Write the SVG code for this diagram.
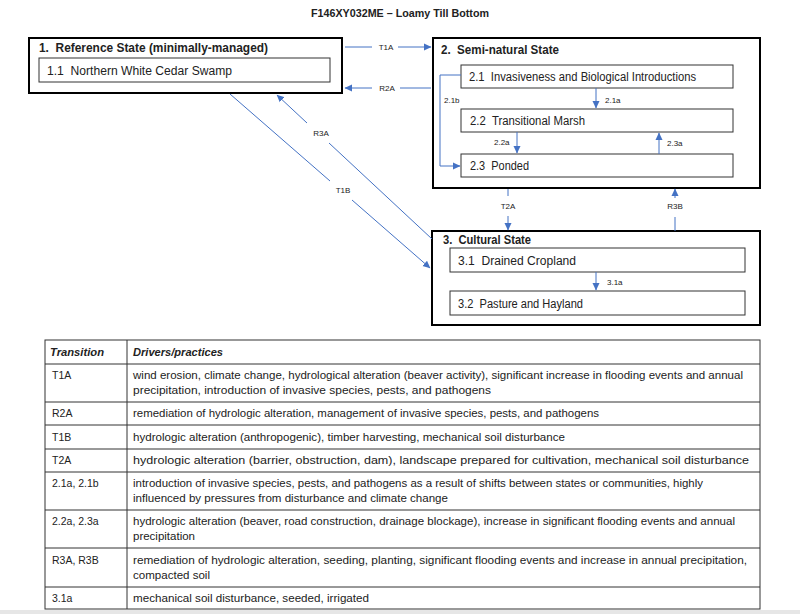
<svg xmlns="http://www.w3.org/2000/svg" width="800" height="614" viewBox="0 0 800 614">
<style>
text{font-family:"Liberation Sans",Arial,sans-serif;fill:#222}
.t{font-size:11px;font-weight:bold}
.h{font-size:12px;font-weight:bold}
.n{font-size:12px}
.l{font-size:8px}
.c{font-size:11px}
.k{font-size:10.5px}
.th{font-size:11px;font-weight:bold;font-style:italic}
.state{fill:#fff;stroke:#000;stroke-width:2}
.com{fill:#fff;stroke:#333;stroke-width:1}
.arr{fill:none;stroke:#4472C4;stroke-width:1}
.grid{stroke:#333;stroke-width:1;fill:none}
</style>
<defs>
<marker id="ah" markerWidth="8" markerHeight="8" refX="7" refY="4" orient="auto" markerUnits="userSpaceOnUse">
<path d="M0,0.5 L7.5,4 L0,7.5 Z" fill="#4472C4"/>
</marker>
</defs>
<rect width="800" height="614" fill="#fff"/>
<text class="t" x="400" y="17" text-anchor="middle" textLength="178" lengthAdjust="spacingAndGlyphs">F146XY032ME – Loamy Till Bottom</text>

<g id="state1">
<rect class="state" x="29" y="38" width="313" height="55"/>
<text class="h" x="39" y="52" textLength="229" lengthAdjust="spacingAndGlyphs">1.&#160; Reference State (minimally-managed)</text>
</g>
<g id="c11">
<rect class="com" x="39" y="58" width="291" height="24"/>
<text class="n" x="47" y="75" textLength="185" lengthAdjust="spacingAndGlyphs">1.1&#160; Northern White Cedar Swamp</text>
</g>
<g id="state2">
<rect class="state" x="433" y="38" width="327" height="150"/>
<text class="h" x="441" y="54" textLength="118" lengthAdjust="spacingAndGlyphs">2.&#160; Semi-natural State</text>
</g>
<g id="c21">
<rect class="com" x="461" y="65" width="272" height="23"/>
<text class="n" x="469" y="81" textLength="227" lengthAdjust="spacingAndGlyphs">2.1&#160; Invasiveness and Biological Introductions</text>
</g>
<g id="c22">
<rect class="com" x="461" y="109" width="272" height="23"/>
<text class="n" x="470" y="125" textLength="115" lengthAdjust="spacingAndGlyphs">2.2&#160; Transitional Marsh</text>
</g>
<g id="c23">
<rect class="com" x="461" y="154" width="272" height="23"/>
<text class="n" x="470" y="170" textLength="59" lengthAdjust="spacingAndGlyphs">2.3&#160; Ponded</text>
</g>
<g id="state3">
<rect class="state" x="432" y="231" width="328" height="94"/>
<text class="h" x="443" y="244" textLength="88" lengthAdjust="spacingAndGlyphs">3.&#160; Cultural State</text>
</g>
<g id="c31">
<rect class="com" x="450" y="248" width="295" height="24"/>
<text class="n" x="458" y="265" textLength="118" lengthAdjust="spacingAndGlyphs">3.1&#160; Drained Cropland</text>
</g>
<g id="c32">
<rect class="com" x="450" y="291" width="295" height="24"/>
<text class="n" x="458" y="308" textLength="125" lengthAdjust="spacingAndGlyphs">3.2&#160; Pasture and Hayland</text>
</g>

<g id="connectors">
<line class="arr" x1="345" y1="47" x2="372" y2="47"/>
<line class="arr" x1="398" y1="47" x2="431" y2="47" marker-end="url(#ah)"/>
<text class="l" x="386" y="50" text-anchor="middle">T1A</text>
<line class="arr" x1="372" y1="88" x2="345" y2="88" marker-end="url(#ah)"/>
<line class="arr" x1="431" y1="88" x2="400" y2="88"/>
<text class="l" x="387" y="91" text-anchor="middle">R2A</text>

<polyline class="arr" points="461,75 440,75 440,166 460,166" marker-end="url(#ah)"/>
<text class="l" x="444" y="103">2.1b</text>
<line class="arr" x1="596" y1="88" x2="596" y2="108" marker-end="url(#ah)"/>
<text class="l" x="605" y="103">2.1a</text>
<line class="arr" x1="517" y1="132" x2="517" y2="153" marker-end="url(#ah)"/>
<text class="l" x="494" y="145">2.2a</text>
<line class="arr" x1="659" y1="154" x2="659" y2="133" marker-end="url(#ah)"/>
<text class="l" x="667" y="146">2.3a</text>

<line class="arr" x1="508" y1="189" x2="508" y2="196"/>
<line class="arr" x1="508" y1="216" x2="508" y2="230" marker-end="url(#ah)"/>
<text class="l" x="508" y="209" text-anchor="middle">T2A</text>
<line class="arr" x1="675" y1="231" x2="675" y2="217"/>
<line class="arr" x1="675" y1="198" x2="675" y2="189" marker-end="url(#ah)"/>
<text class="l" x="675" y="209" text-anchor="middle">R3B</text>

<line class="arr" x1="230" y1="94" x2="330" y2="181"/>
<line class="arr" x1="352" y1="200" x2="430" y2="268" marker-end="url(#ah)"/>
<text class="l" x="343" y="193" text-anchor="middle">T1B</text>
<line class="arr" x1="432" y1="239" x2="329" y2="143"/>
<line class="arr" x1="307" y1="123" x2="277" y2="95" marker-end="url(#ah)"/>
<text class="l" x="321" y="136" text-anchor="middle">R3A</text>

<line class="arr" x1="596" y1="272" x2="596" y2="290" marker-end="url(#ah)"/>
<text class="l" x="607" y="285">3.1a</text>
</g>

<g id="table">
<rect class="grid" x="45" y="340" width="715" height="269"/>
<line class="grid" x1="127" y1="340" x2="127" y2="609"/>
<line class="grid" x1="45" y1="364" x2="760" y2="364"/>
<line class="grid" x1="45" y1="402" x2="760" y2="402"/>
<line class="grid" x1="45" y1="425" x2="760" y2="425"/>
<line class="grid" x1="45" y1="449" x2="760" y2="449"/>
<line class="grid" x1="45" y1="472" x2="760" y2="472"/>
<line class="grid" x1="45" y1="510" x2="760" y2="510"/>
<line class="grid" x1="45" y1="548" x2="760" y2="548"/>
<line class="grid" x1="45" y1="587" x2="760" y2="587"/>
<text class="th" x="50" y="356" textLength="54" lengthAdjust="spacingAndGlyphs">Transition</text>
<text class="th" x="133" y="356" textLength="90" lengthAdjust="spacingAndGlyphs">Drivers/practices</text>
<text class="k" x="52" y="379">T1A</text>
<text class="c" x="133" y="379" textLength="610" lengthAdjust="spacingAndGlyphs">wind erosion, climate change, hydrological alteration (beaver activity), significant increase in flooding events and annual</text>
<text class="c" x="133" y="394" textLength="358" lengthAdjust="spacingAndGlyphs">precipitation, introduction of invasive species, pests, and pathogens</text>
<text class="k" x="52" y="417">R2A</text>
<text class="c" x="133" y="417" textLength="466" lengthAdjust="spacingAndGlyphs">remediation of hydrologic alteration, management of invasive species, pests, and pathogens</text>
<text class="k" x="52" y="441">T1B</text>
<text class="c" x="133" y="441" textLength="432" lengthAdjust="spacingAndGlyphs">hydrologic alteration (anthropogenic), timber harvesting, mechanical soil disturbance</text>
<text class="k" x="52" y="464">T2A</text>
<text class="c" x="133" y="464" textLength="616" lengthAdjust="spacingAndGlyphs">hydrologic alteration (barrier, obstruction, dam), landscape prepared for cultivation, mechanical soil disturbance</text>
<text class="k" x="52" y="487">2.1a, 2.1b</text>
<text class="c" x="133" y="487" textLength="570" lengthAdjust="spacingAndGlyphs">introduction of invasive species, pests, and pathogens as a result of shifts between states or communities, highly</text>
<text class="c" x="133" y="502" textLength="315" lengthAdjust="spacingAndGlyphs">influenced by pressures from disturbance and climate change</text>
<text class="k" x="52" y="525">2.2a, 2.3a</text>
<text class="c" x="133" y="525" textLength="602" lengthAdjust="spacingAndGlyphs">hydrologic alteration (beaver, road construction, drainage blockage), increase in significant flooding events and annual</text>
<text class="c" x="133" y="540" textLength="62" lengthAdjust="spacingAndGlyphs">precipitation</text>
<text class="k" x="52" y="564">R3A, R3B</text>
<text class="c" x="133" y="564" textLength="614" lengthAdjust="spacingAndGlyphs">remediation of hydrologic alteration, seeding, planting, significant flooding events and increase in annual precipitation,</text>
<text class="c" x="133" y="579" textLength="77" lengthAdjust="spacingAndGlyphs">compacted soil</text>
<text class="k" x="52" y="602">3.1a</text>
<text class="c" x="133" y="602" textLength="236" lengthAdjust="spacingAndGlyphs">mechanical soil disturbance, seeded, irrigated</text>
</g>
<rect x="0" y="610" width="800" height="4" fill="#e6e6e6"/>
</svg>
